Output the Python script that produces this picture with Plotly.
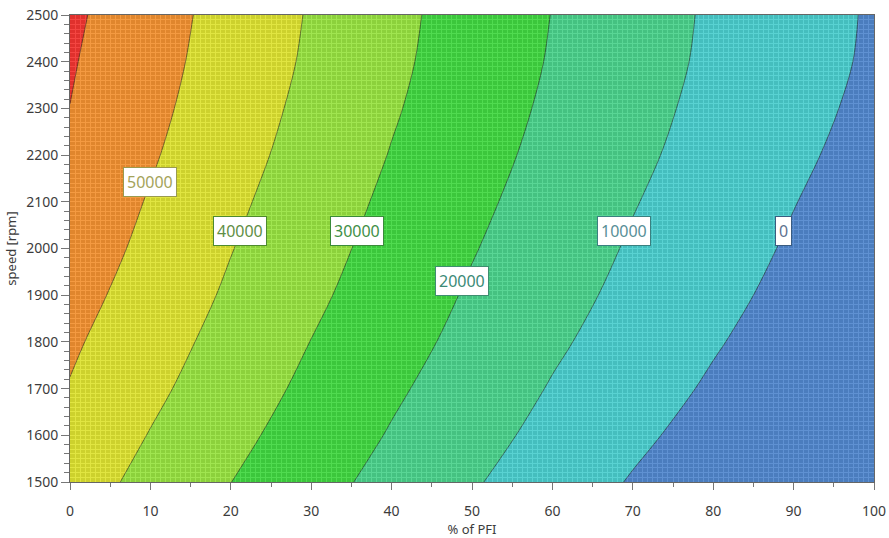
import plotly.graph_objects as go

# Sample grid: share of port fuel injection (%) and engine speed (rpm)
pfi_share = [0, 10, 20, 30, 40, 50, 60, 70, 80, 90, 100]
speed_rpm = [1500, 1600, 1700, 1800, 1900, 2000, 2100, 2200, 2300, 2400, 2500]

# Response values on the grid, one row per speed
z_1500 = [44560, 37270, 30070, 23400, 16990, 10860, 5060, -650, -6050, -11200, -16200]
z_1600 = [46990, 39640, 32500, 25780, 19330, 13190, 7360, 1870, -3470, -8740, -13800]
z_1700 = [49550, 41970, 34790, 27920, 21430, 15330, 9410, 4100, -1180, -6310, -11400]
z_1800 = [51350, 43970, 36810, 29870, 23460, 17280, 11360, 5990, 780, -4250, -9250]
z_1900 = [53380, 45960, 38680, 31740, 25220, 18950, 13140, 7640, 2510, -2510, -7440]
z_2000 = [55300, 47760, 40300, 33330, 26750, 20500, 14710, 9080, 3980, -1070, -5950]
z_2100 = [56950, 49330, 41870, 34860, 28190, 21940, 16100, 10450, 5330, 250, -4590]
z_2200 = [58620, 50920, 43430, 36350, 29620, 23330, 17370, 11790, 6600, 1600, -3240]
z_2300 = [59920, 52230, 44740, 37580, 30870, 24530, 18440, 12850, 7600, 2700, -2100]
z_2400 = [60770, 53230, 45840, 38640, 31840, 25470, 19330, 13740, 8400, 3540, -1260]
z_2500 = [61700, 54000, 46500, 39250, 32400, 26000, 19830, 14210, 8780, 3900, -950]

# Contour levels
level_start = 0
level_end = 60000
level_step = 10000

# Inline level labels
label_levels = [50000, 40000, 30000, 20000, 10000, 0]
label_pfi = [9.95, 21.1, 35.7, 48.8, 68.9, 88.7]
label_speed = [2142, 2037, 2037, 1930, 2037, 2037]
label_text_colors = ["#a4a35a", "#5f8e45", "#3f8f47", "#3b8a76", "#588f97", "#5f7390"]
label_border_colors = ["#9a9a4e", "#4e8a2e", "#3a8a3a", "#3e8e70", "#3a8080", "#3a5c80"]

# Band colours from lowest (below 0) to highest (above 60000)
band_colors = [
    "rgb(73,130,204)",
    "rgb(67,204,204)",
    "rgb(67,209,135)",
    "rgb(56,215,56)",
    "rgb(147,226,56)",
    "rgb(221,226,39)",
    "rgb(243,141,39)",
    "rgb(243,44,39)",
]

# Stepwise colour scale: each band gets one flat segment; the top band
# only occupies the very end of the scale, where values above the last
# level are clamped.
n_bands = len(band_colors) - 1
colorscale = []
for k in range(n_bands):
    lo = k / n_bands
    hi = (k + 1) / n_bands if k < n_bands - 1 else 0.99
    colorscale.append([lo, band_colors[k]])
    colorscale.append([hi, band_colors[k]])
colorscale.append([0.99, band_colors[-1]])
colorscale.append([1.0, band_colors[-1]])

z = [z_1500, z_1600, z_1700, z_1800, z_1900, z_2000,
     z_2100, z_2200, z_2300, z_2400, z_2500]

fig = go.Figure()
fig.add_trace(go.Contour(
    x=pfi_share,
    y=speed_rpm,
    z=z,
    autocontour=False,
    contours=dict(start=level_start, end=level_end, size=level_step,
                  coloring="fill", showlines=True),
    line=dict(color="rgba(20,20,20,0.55)", width=1, smoothing=0.9),
    colorscale=colorscale,
    showscale=False,
    opacity=0.88,
    hoverinfo="skip",
))

# Empty trace that carries the fine sampling-mesh axes
fig.add_trace(go.Scatter(x=[], y=[], xaxis="x2", yaxis="y2",
                         showlegend=False, hoverinfo="skip"))

font_family = "Noto Sans, Open Sans, sans-serif"
tick_color = "#3c3c3c"

for lvl, px, sp, tc, bc in zip(label_levels, label_pfi, label_speed,
                               label_text_colors, label_border_colors):
    fig.add_annotation(
        x=px, y=sp, text=str(lvl), showarrow=False,
        xanchor="center", yanchor="middle",
        font=dict(family=font_family, size=16, color=tc),
        bgcolor="white", bordercolor=bc, borderwidth=1, borderpad=3,
    )

fig.update_layout(
    width=889, height=538,
    margin=dict(l=70, r=15, t=15, b=56),
    paper_bgcolor="white",
    plot_bgcolor="rgb(90,90,90)",
    showlegend=False,
    font=dict(family=font_family, color=tick_color),
    xaxis=dict(
        range=[0, 100], tick0=0, dtick=10,
        ticks="outside", ticklen=7, tickcolor="#777", tickwidth=1,
        minor=dict(dtick=5, ticks="outside", ticklen=4, tickcolor="#777"),
        showgrid=False, zeroline=False,
        showline=True, linecolor="#666", linewidth=1, mirror=True,
        tickfont=dict(size=14, color=tick_color), ticklabelstandoff=9,
        title=dict(text="% of PFI", font=dict(size=13, color=tick_color), standoff=6),
        layer="above traces", automargin=False,
    ),
    yaxis=dict(
        range=[1500, 2500], tick0=1500, dtick=100,
        ticks="outside", ticklen=8, tickcolor="#777", tickwidth=1,
        minor=dict(dtick=20, ticks="outside", ticklen=5, tickcolor="#777"),
        showgrid=False, zeroline=False,
        showline=True, linecolor="#666", linewidth=1, mirror=True,
        tickfont=dict(size=14, color=tick_color),
        title=dict(text="speed [rpm]", font=dict(size=13, color=tick_color), standoff=6),
        layer="above traces", automargin=False,
    ),
    xaxis2=dict(
        overlaying="x", range=[0, 100], tick0=0, dtick=0.625,
        showgrid=True, gridcolor="white", gridwidth=1,
        showticklabels=False, ticks="", zeroline=False, showline=False,
    ),
    yaxis2=dict(
        overlaying="y", range=[1500, 2500], tick0=1500, dtick=10,
        showgrid=True, gridcolor="white", gridwidth=1,
        showticklabels=False, ticks="", zeroline=False, showline=False,
    ),
)

fig.write_html("out.html")
